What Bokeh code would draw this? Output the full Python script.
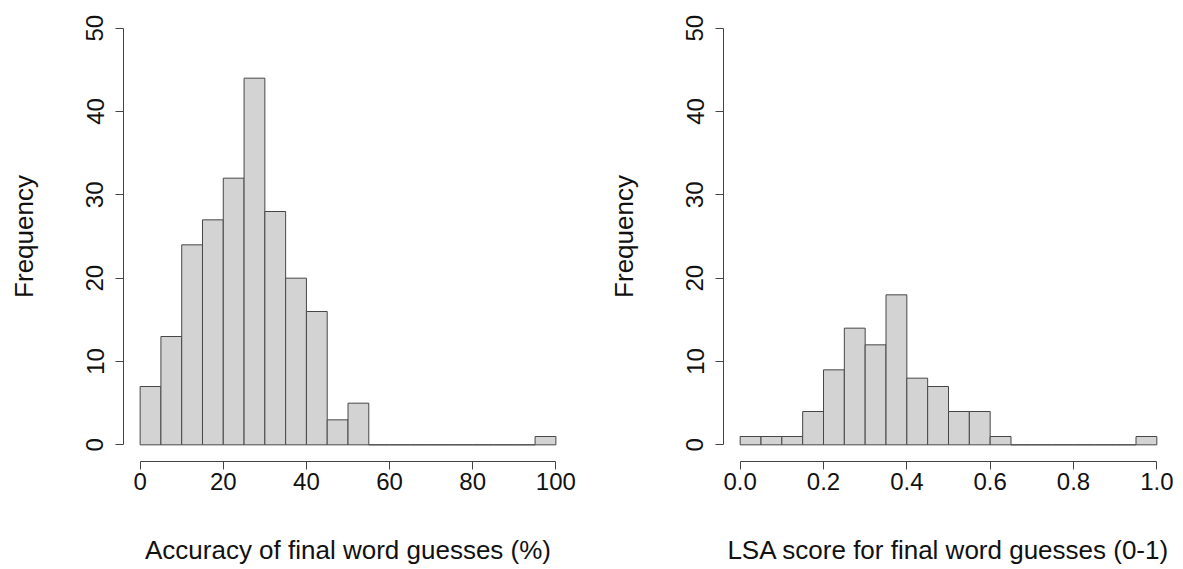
from bokeh.plotting import figure
from bokeh.layouts import row
from bokeh.models import FixedTicker, PrintfTickFormatter, Range1d, ColumnDataSource
from bokeh.embed import file_html
from bokeh.resources import INLINE

# ---- data ----
acc_left = [0, 5, 10, 15, 20, 25, 30, 35, 40, 45, 50, 55, 60, 65, 70, 75, 80, 85, 90, 95]
acc_right = [5, 10, 15, 20, 25, 30, 35, 40, 45, 50, 55, 60, 65, 70, 75, 80, 85, 90, 95, 100]
acc_counts = [7, 13, 24, 27, 32, 44, 28, 20, 16, 3, 5, 0, 0, 0, 0, 0, 0, 0, 0, 1]
acc_xticks = [0, 20, 40, 60, 80, 100]

lsa_left = [0.00, 0.05, 0.10, 0.15, 0.20, 0.25, 0.30, 0.35, 0.40, 0.45,
            0.50, 0.55, 0.60, 0.65, 0.70, 0.75, 0.80, 0.85, 0.90, 0.95]
lsa_right = [0.05, 0.10, 0.15, 0.20, 0.25, 0.30, 0.35, 0.40, 0.45, 0.50,
             0.55, 0.60, 0.65, 0.70, 0.75, 0.80, 0.85, 0.90, 0.95, 1.00]
lsa_counts = [1, 1, 1, 4, 9, 14, 12, 18, 8, 7, 4, 4, 1, 0, 0, 0, 0, 0, 0, 1]
lsa_xticks = [0.0, 0.2, 0.4, 0.6, 0.8, 1.0]

y_ticks = [0, 10, 20, 30, 40, 50]

FONT = "Liberation Sans"
TICK_FS = "24px"
TITLE_FS = "26px"


def hist(left, right, counts, xticks, xlabel, xr, min_left, fw, min_right, fmt=None):
    p = figure(frame_width=fw, frame_height=450, min_border_left=min_left,
               min_border_right=min_right, min_border_top=11, min_border_bottom=108,
               x_range=Range1d(*xr), y_range=Range1d(-2, 52),
               output_backend="svg", toolbar_location=None)
    src = ColumnDataSource(dict(left=left, right=right, top=counts, bottom=[0] * len(counts)))
    p.quad(left="left", right="right", top="top", bottom="bottom", source=src,
           fill_color="#d3d3d3", line_color="#474747", line_width=1)
    p.outline_line_color = None
    p.grid.visible = False
    p.background_fill_color = "white"
    p.border_fill_color = "white"

    xa = p.xaxis[0]
    xa.ticker = FixedTicker(ticks=xticks)
    xa.bounds = (xticks[0], xticks[-1])
    if fmt:
        xa.formatter = PrintfTickFormatter(format=fmt)
    ya = p.yaxis[0]
    ya.ticker = FixedTicker(ticks=y_ticks)
    ya.bounds = (0, 50)
    ya.major_label_orientation = "vertical"

    for ax in (xa, ya):
        ax.axis_line_color = "#444444"
        ax.major_tick_line_color = "#444444"
        ax.minor_tick_line_color = None
        ax.major_tick_out = 8
        ax.major_tick_in = 0
        ax.major_label_text_font = FONT
        ax.major_label_text_font_size = TICK_FS
        ax.major_label_text_color = "#111111"
        ax.axis_label_text_font = FONT
        ax.axis_label_text_font_size = TITLE_FS
        ax.axis_label_text_font_style = "normal"
        ax.axis_label_text_color = "#111111"
    xa.major_label_standoff = 3
    xa.axis_label = xlabel
    xa.axis_label_standoff = 42
    ya.major_label_standoff = 12
    ya.axis_label = "Frequency"
    ya.axis_label_standoff = 45
    return p


p1 = hist(acc_left, acc_right, acc_counts, acc_xticks,
          "Accuracy of final word guesses (%)", (-4, 104), 123, 449, 28)
p2 = hist(lsa_left, lsa_right, lsa_counts, lsa_xticks,
          "LSA score for final word guesses (0-1)", (-0.04, 1.04), 123, 450, 10, fmt="%.1f")

layout = row(p1, p2)
open("out.html", "w").write(file_html(layout, INLINE))
